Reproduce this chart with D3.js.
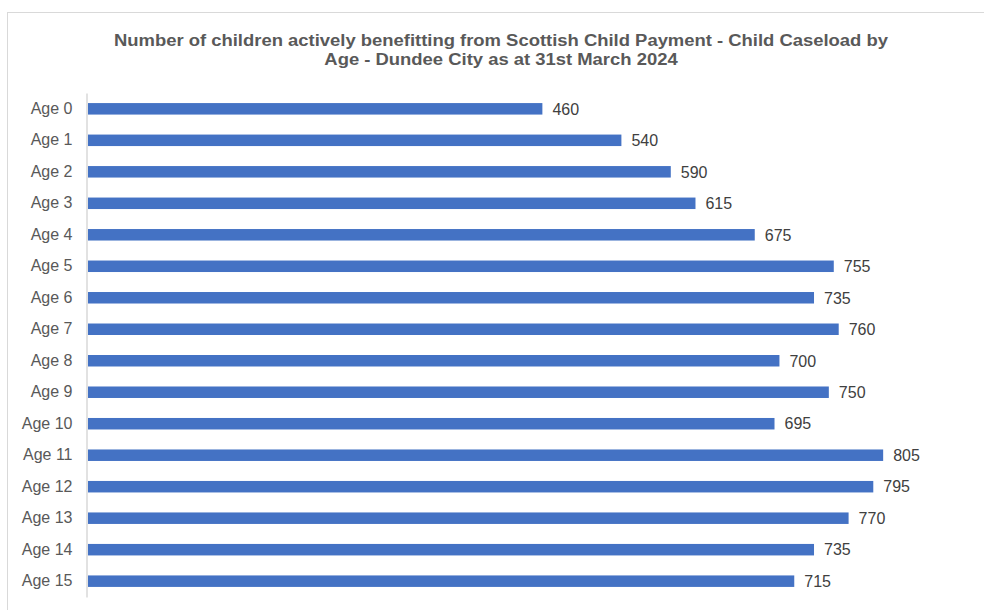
<!DOCTYPE html>
<html>
<head>
<meta charset="utf-8">
<script src="https://cdn.jsdelivr.net/npm/d3@7"></script>
<style>
  html, body { margin: 0; padding: 0; background: #fff; }
  svg { display: block; font-family: "Liberation Sans", Arial, sans-serif; }
</style>
</head>
<body>
<svg id="chart" width="984" height="610"></svg>
<script>
// Child caseload by age, Dundee City, 31 March 2024
const categories = ["Age 0", "Age 1", "Age 2", "Age 3", "Age 4", "Age 5", "Age 6", "Age 7",
                    "Age 8", "Age 9", "Age 10", "Age 11", "Age 12", "Age 13", "Age 14", "Age 15"];
const values = [460, 540, 590, 615, 675, 755, 735, 760, 700, 750, 695, 805, 795, 770, 735, 715];
const titleLines = [
  "Number of children actively benefitting from Scottish Child Payment - Child Caseload by",
  "Age - Dundee City as at 31st March 2024"
];

const svg = d3.select("#chart");
const W = 984, H = 610;
const margin = { top: 93, right: 7, bottom: 13, left: 88 };

// outer chart frame
svg.append("rect")
  .attr("x", 7.5).attr("y", 12.5)
  .attr("width", W).attr("height", H)
  .attr("fill", "none").attr("stroke", "#d9d9d9").attr("stroke-width", 1);

// title (slightly widened glyphs)
svg.append("g")
  .attr("transform", "translate(501,0) scale(1.085,1)")
  .selectAll("text")
  .data(titleLines)
  .join("text")
  .attr("x", 0)
  .attr("y", (d, i) => 46 + i * 19.5)
  .attr("text-anchor", "middle")
  .attr("font-size", "17px")
  .attr("font-weight", "bold")
  .attr("fill", "#595959")
  .text(d => d);

const x = d3.scaleLinear()
  .domain([0, 900])
  .range([margin.left, margin.left + 889]);

const y = d3.scaleBand()
  .domain(categories)
  .range([margin.top, H - margin.bottom])
  .paddingInner(0.635)
  .paddingOuter(0.32);

// bars
svg.append("g").selectAll("rect")
  .data(values)
  .join("rect")
  .attr("x", x(0))
  .attr("y", (d, i) => y(categories[i]))
  .attr("width", d => x(d) - x(0))
  .attr("height", y.bandwidth())
  .attr("fill", "#4472c4");

// value labels
svg.append("g").selectAll("text")
  .data(values)
  .join("text")
  .attr("x", d => x(d) + 10)
  .attr("y", (d, i) => y(categories[i]) + y.bandwidth() / 2)
  .attr("dy", "0.36em")
  .attr("font-size", "16px")
  .attr("fill", "#404040")
  .text(d => d);

// category axis
const yAxis = svg.append("g")
  .attr("transform", `translate(${x(0) - 1.5},0)`)
  .call(d3.axisLeft(y).tickSize(0).tickPadding(14));
yAxis.select(".domain").attr("stroke", "#d9d9d9").attr("stroke-width", 1.5);
yAxis.selectAll("text")
  .attr("font-size", "16px")
  .attr("font-family", "\"Liberation Sans\", Arial, sans-serif")
  .attr("fill", "#595959");
</script>
</body>
</html>
